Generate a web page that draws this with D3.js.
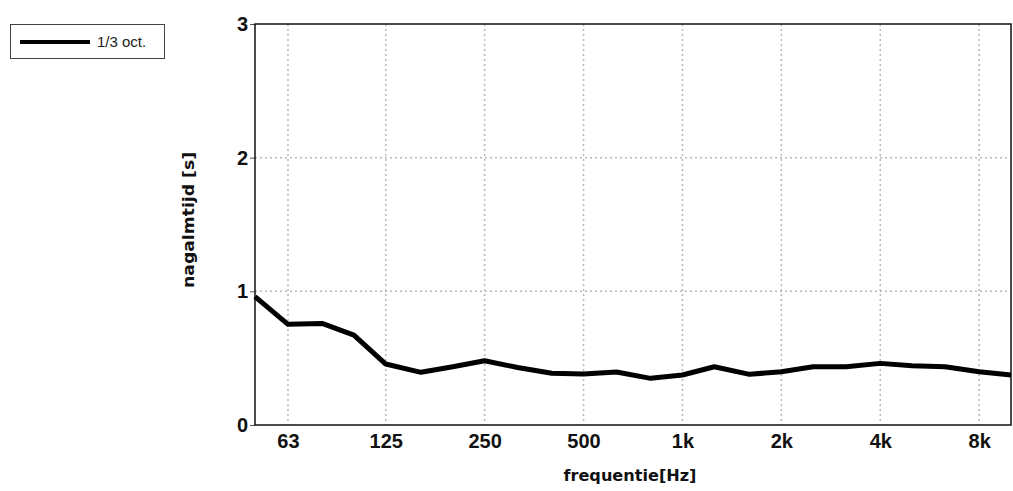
<!DOCTYPE html>
<html><head><meta charset="utf-8">
<script src="https://cdn.jsdelivr.net/npm/d3@7/dist/d3.min.js"></script>
<style>body{margin:0;background:#fff}svg{display:block}</style>
</head><body>
<svg id="c" width="1013" height="491"></svg>
<script>
const freqs = [50,63,80,100,125,160,200,250,315,400,500,630,800,1000,1250,1600,2000,2500,3150,4000,5000,6300,8000,10000];
const rt = [0.96,0.753,0.76,0.673,0.456,0.394,0.436,0.481,0.43,0.387,0.381,0.397,0.349,0.374,0.436,0.379,0.399,0.436,0.436,0.461,0.444,0.436,0.399,0.374];
const xTickVals = [63,125,250,500,1000,2000,4000,8000];
const xTickLabels = ["63","125","250","500","1k","2k","4k","8k"];
const yTickVals = [0,1,2,3];
const seriesName = "1/3 oct.";
const xTitle = "frequentie[Hz]";
const yTitle = "nagalmtijd [s]";

const svg = d3.select("#c");
const L=255, R=1011, T=24, B=425;
const x = d3.scaleLog().domain([50,10000]).range([L,R]);
const y = d3.scaleLinear().domain([0,3]).range([B,T]);

// grid
const g = svg.append("g");
g.selectAll(".vg").data(xTickVals).join("line")
  .attr("x1",d=>x(d)).attr("x2",d=>x(d)).attr("y1",T).attr("y2",B)
  .attr("stroke","#b8b8b8").attr("stroke-width",1.5).attr("stroke-dasharray","2,3");
g.selectAll(".hg").data([1,2]).join("line")
  .attr("x1",L).attr("x2",R).attr("y1",d=>y(d)).attr("y2",d=>y(d))
  .attr("stroke","#b8b8b8").attr("stroke-width",1.5).attr("stroke-dasharray","2,3");

// axes
const xa = d3.axisBottom(x).tickValues(xTickVals).tickFormat((d,i)=>xTickLabels[i]).tickSize(0).tickPadding(9);
const xg = svg.append("g").attr("transform",`translate(0,${B})`).call(xa);
xg.select(".domain").remove();
xg.selectAll("text").attr("font-family","Liberation Sans, Arial, sans-serif").attr("font-weight","bold").attr("font-size",20).attr("fill","#111");

const ya = d3.axisLeft(y).tickValues(yTickVals).tickFormat(d3.format("d")).tickSize(5).tickPadding(2);
const yg = svg.append("g").attr("transform",`translate(${L},0)`).call(ya);
yg.select(".domain").remove();
yg.selectAll("line").attr("stroke","#555");
yg.selectAll("text").attr("font-family","Liberation Sans, Arial, sans-serif").attr("font-weight","bold").attr("font-size",20).attr("fill","#111");

// frame
svg.append("rect").attr("x",L).attr("y",T).attr("width",R-L).attr("height",B-T)
  .attr("fill","none").attr("stroke","#111").attr("stroke-width",1.5);

// line
const line = d3.line().x((d,i)=>x(freqs[i])).y(d=>y(d));
svg.append("path").datum(rt).attr("d",line).attr("fill","none")
  .attr("stroke","#000").attr("stroke-width",5).attr("stroke-linejoin","round");

// titles
svg.append("text").attr("x",630).attr("y",481).attr("text-anchor","middle")
  .attr("font-family","DejaVu Sans, sans-serif").attr("font-weight","bold").attr("font-size",15)
  .attr("textLength",133).attr("lengthAdjust","spacingAndGlyphs").attr("fill","#111").text(xTitle);
svg.append("text").attr("transform","translate(194,220) rotate(-90)").attr("text-anchor","middle")
  .attr("font-family","DejaVu Sans, sans-serif").attr("font-weight","bold").attr("font-size",15)
  .attr("textLength",136).attr("lengthAdjust","spacingAndGlyphs").attr("fill","#111").text(yTitle);

// legend
const lg = svg.append("g");
lg.append("rect").attr("x",10.5).attr("y",24.5).attr("width",154).attr("height",34)
  .attr("fill","#fff").attr("stroke","#444").attr("stroke-width",1);
lg.append("line").attr("x1",20).attr("x2",90).attr("y1",42).attr("y2",42).attr("stroke","#000").attr("stroke-width",4);
lg.append("text").attr("x",97).attr("y",47).attr("font-family","Liberation Sans Narrow, Liberation Sans, sans-serif")
  .attr("font-size",15).attr("fill","#222").text(seriesName);
</script>
</body></html>
